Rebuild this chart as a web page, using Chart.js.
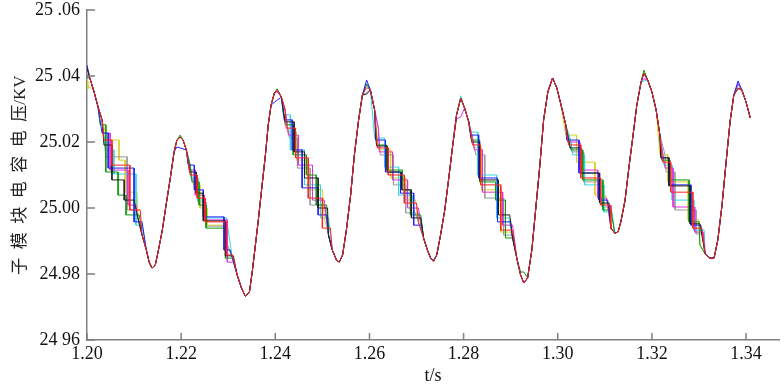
<!DOCTYPE html>
<html lang="zh">
<head>
  <meta charset="UTF-8">
  <title>子模块电容电压</title>
  <script src="https://cdn.jsdelivr.net/npm/chart.js"></script>
  <style>
    html, body { margin: 0; padding: 0; background: #ffffff; }
    canvas { display: block; }
  </style>
</head>
<body>
  <canvas id="volt-chart" width="784" height="387"></canvas>

  <script>
    // axis ticks
    const timeTicks = [1.20, 1.22, 1.24, 1.26, 1.28, 1.30, 1.32, 1.34];
    const voltTicks = [24.96, 24.98, 25.00, 25.02, 25.04, 25.06];
    const voltTickLabels = ['24 96', '24.98', '25.00', '25.02', '25 .04', '25 .06'];

    // smooth envelope, one array per ripple cycle [t (s), U (kV)]
    const cycle0 = [[1.2000,25.0424],[1.2006,25.0394],[1.2015,25.0352],[1.2023,25.0309],[1.2032,25.0267],[1.2040,25.0224],[1.2049,25.0182],[1.2060,25.0136],[1.2070,25.0091],[1.2083,25.0045],[1.2096,25.0006],[1.2109,24.9964],[1.2117,24.9918],[1.2126,24.9873],[1.2132,24.9836],[1.2138,24.9818],[1.2145,24.9827],[1.2151,24.9867],[1.2160,24.9933],[1.2168,25.0009],[1.2177,25.0091],[1.2185,25.0170],[1.2191,25.0206],[1.2198,25.0215],[1.2204,25.0206],[1.2211,25.0176]];
    const cycle1 = [[1.2219,25.0130],[1.2228,25.0085],[1.2236,25.0045],[1.2247,25.0009],[1.2257,24.9982],[1.2270,24.9958],[1.2283,24.9933],[1.2296,24.9897],[1.2309,24.9848],[1.2319,24.9797],[1.2328,24.9758],[1.2336,24.9733],[1.2345,24.9745],[1.2351,24.9806],[1.2357,24.9879],[1.2364,24.9964],[1.2372,25.0070],[1.2379,25.0161],[1.2385,25.0252],[1.2391,25.0312],[1.2398,25.0348],[1.2404,25.0358]];
    const cycle2 = [[1.2413,25.0336],[1.2421,25.0297],[1.2432,25.0242],[1.2443,25.0191],[1.2453,25.0145],[1.2466,25.0100],[1.2479,25.0055],[1.2491,25.0015],[1.2504,24.9970],[1.2513,24.9918],[1.2521,24.9873],[1.2530,24.9842],[1.2536,24.9836],[1.2543,24.9858],[1.2551,24.9933],[1.2560,25.0039],[1.2568,25.0161],[1.2577,25.0267],[1.2585,25.0342],[1.2594,25.0376]];
    const cycle3 = [[1.2602,25.0358],[1.2611,25.0297],[1.2619,25.0242],[1.2630,25.0191],[1.2643,25.0145],[1.2655,25.0109],[1.2668,25.0070],[1.2681,25.0033],[1.2694,24.9994],[1.2704,24.9958],[1.2715,24.9909],[1.2723,24.9873],[1.2730,24.9848],[1.2736,24.9839],[1.2743,24.9858],[1.2751,24.9918],[1.2760,24.9994],[1.2768,25.0085],[1.2777,25.0191],[1.2785,25.0282],[1.2794,25.0333]];
    const cycle4 = [[1.2802,25.0303],[1.2811,25.0261],[1.2819,25.0212],[1.2830,25.0170],[1.2843,25.0124],[1.2855,25.0085],[1.2868,25.0039],[1.2881,24.9994],[1.2894,24.9955],[1.2904,24.9909],[1.2913,24.9848],[1.2921,24.9797],[1.2928,24.9773],[1.2936,24.9788],[1.2945,24.9873],[1.2953,24.9994],[1.2962,25.0130],[1.2970,25.0267],[1.2979,25.0352],[1.2989,25.0394]];
    const cycle5 = [[1.2998,25.0364],[1.3006,25.0318],[1.3017,25.0252],[1.3028,25.0200],[1.3040,25.0152],[1.3053,25.0109],[1.3066,25.0073],[1.3079,25.0036],[1.3091,25.0003],[1.3102,24.9970],[1.3113,24.9939],[1.3121,24.9924],[1.3128,24.9927],[1.3134,24.9958],[1.3143,25.0024],[1.3151,25.0121],[1.3160,25.0221],[1.3168,25.0312],[1.3177,25.0382],[1.3183,25.0409]];
    const cycle6 = [[1.3191,25.0388],[1.3200,25.0352],[1.3209,25.0297],[1.3217,25.0221],[1.3228,25.0161],[1.3240,25.0109],[1.3253,25.0061],[1.3266,25.0015],[1.3279,24.9970],[1.3291,24.9927],[1.3302,24.9888],[1.3313,24.9861],[1.3323,24.9848],[1.3332,24.9848],[1.3340,24.9903],[1.3349,25.0009],[1.3357,25.0130],[1.3366,25.0261],[1.3374,25.0342],[1.3383,25.0376],[1.3391,25.0358],[1.3400,25.0321],[1.3409,25.0273]];

    // held (stepped) stretches of each submodule on the falling edges: [t start, t end, U held]
    const blueHolds = [
      [1.2032,1.2045,25.0227],[1.2045,1.2100,25.0121],[1.2100,1.2117,24.9958],
      [1.2215,1.2228,25.0130],[1.2228,1.2247,25.0055],[1.2247,1.2291,24.9973],[1.2291,1.2304,24.9873],
      [1.2419,1.2436,25.0267],[1.2436,1.2457,25.0176],[1.2457,1.2491,25.0061],[1.2491,1.2509,24.9979],
      [1.2613,1.2634,25.0206],[1.2634,1.2666,25.0109],[1.2666,1.2694,25.0045],[1.2694,1.2711,24.9948],
      [1.2815,1.2832,25.0221],[1.2832,1.2872,25.0091],[1.2872,1.2900,24.9958],
      [1.3019,1.3045,25.0206],[1.3045,1.3087,25.0106],[1.3087,1.3106,25.0024],
      [1.3219,1.3236,25.0152],[1.3236,1.3283,25.0070],[1.3283,1.3304,24.9948]
    ];
    const redHolds = [
      [1.2036,1.2053,25.0206],[1.2053,1.2091,25.0130],[1.2091,1.2113,24.9994],
      [1.2219,1.2234,25.0100],[1.2234,1.2251,25.0030],[1.2251,1.2296,24.9958],[1.2296,1.2309,24.9858],
      [1.2423,1.2443,25.0242],[1.2443,1.2470,25.0152],[1.2470,1.2500,25.0030],[1.2500,1.2517,24.9939],
      [1.2617,1.2640,25.0182],[1.2640,1.2674,25.0100],[1.2674,1.2700,25.0015],
      [1.2819,1.2836,25.0191],[1.2836,1.2879,25.0070],[1.2879,1.2904,24.9933],
      [1.3023,1.3049,25.0191],[1.3049,1.3091,25.0091],[1.3091,1.3111,25.0009],
      [1.3223,1.3240,25.0139],[1.3240,1.3287,25.0048],[1.3287,1.3306,24.9939]
    ];
    const greenHolds = [
      [1.2028,1.2040,25.0252],[1.2040,1.2066,25.0109],[1.2066,1.2083,25.0039],[1.2083,1.2111,24.9979],
      [1.2223,1.2238,25.0079],[1.2238,1.2253,25.0009],[1.2253,1.2294,24.9939],[1.2294,1.2306,24.9848],
      [1.2421,1.2438,25.0252],[1.2438,1.2466,25.0161],[1.2466,1.2487,25.0100],[1.2487,1.2509,25.0009],
      [1.2615,1.2636,25.0191],[1.2636,1.2670,25.0115],[1.2670,1.2687,25.0055],[1.2687,1.2709,24.9979],
      [1.2817,1.2834,25.0206],[1.2834,1.2868,25.0079],[1.2868,1.2889,25.0024],[1.2889,1.2906,24.9909],
      [1.3028,1.3053,25.0176],[1.3053,1.3096,25.0085],[1.3096,1.3113,24.9994],
      [1.3221,1.3238,25.0145],[1.3238,1.3279,25.0085],[1.3279,1.3300,24.9958]
    ];
    const magentaHolds = [
      [1.2034,1.2049,25.0227],[1.2049,1.2087,25.0115],[1.2087,1.2104,25.0009],
      [1.2217,1.2230,25.0115],[1.2230,1.2249,25.0039],[1.2249,1.2298,24.9964],[1.2298,1.2313,24.9836],
      [1.2428,1.2449,25.0221],[1.2449,1.2479,25.0130],[1.2479,1.2504,25.0024],
      [1.2621,1.2649,25.0170],[1.2649,1.2681,25.0085],[1.2681,1.2704,25.0000],
      [1.2823,1.2840,25.0176],[1.2840,1.2883,25.0048],[1.2883,1.2904,24.9948],
      [1.3021,1.3047,25.0200],[1.3047,1.3085,25.0115],[1.3085,1.3104,25.0030],
      [1.3228,1.3245,25.0121],[1.3245,1.3291,25.0003],[1.3291,1.3309,24.9927]
    ];
    const cyanHolds = [
      [1.2040,1.2057,25.0176],[1.2057,1.2104,25.0103],[1.2104,1.2117,24.9948],
      [1.2221,1.2236,25.0091],[1.2236,1.2249,25.0024],[1.2249,1.2296,24.9970],
      [1.2417,1.2432,25.0282],[1.2432,1.2462,25.0176],[1.2462,1.2496,25.0070],[1.2496,1.2513,24.9970],
      [1.2611,1.2632,25.0212],[1.2632,1.2662,25.0124],[1.2662,1.2691,25.0039],
      [1.2813,1.2830,25.0230],[1.2830,1.2870,25.0100],[1.2870,1.2896,24.9970],
      [1.3032,1.3057,25.0161],[1.3057,1.3098,25.0070],[1.3098,1.3115,24.9988],
      [1.3226,1.3243,25.0130],[1.3243,1.3289,25.0024],[1.3289,1.3311,24.9933]
    ];
    const yellowHolds = [
      [1.2002,1.2013,25.0364],[1.2043,1.2068,25.0206],[1.2068,1.2081,25.0145],[1.2081,1.2106,25.0048],
      [1.2226,1.2240,25.0070],[1.2240,1.2255,25.0000],[1.2255,1.2289,24.9948],
      [1.2426,1.2445,25.0230],[1.2445,1.2470,25.0145],[1.2470,1.2500,25.0055],
      [1.2619,1.2645,25.0176],[1.2645,1.2677,25.0091],[1.2677,1.2698,25.0024],
      [1.2821,1.2838,25.0182],[1.2838,1.2879,25.0055],[1.2879,1.2900,24.9927],
      [1.3017,1.3040,25.0221],[1.3040,1.3079,25.0139],[1.3079,1.3102,25.0039],
      [1.3217,1.3234,25.0161],[1.3234,1.3277,25.0079],[1.3277,1.3300,24.9964]
    ];
    const blackHolds = [
      [1.2036,1.2053,25.0191],[1.2053,1.2079,25.0085],[1.2079,1.2100,25.0024],
      [1.2219,1.2232,25.0109],[1.2232,1.2247,25.0045],[1.2247,1.2294,24.9961],[1.2294,1.2311,24.9855],
      [1.2421,1.2440,25.0261],[1.2440,1.2462,25.0170],[1.2462,1.2491,25.0091],[1.2491,1.2511,25.0000],
      [1.2615,1.2638,25.0188],[1.2638,1.2668,25.0109],[1.2668,1.2689,25.0055],[1.2689,1.2709,24.9970],
      [1.2817,1.2834,25.0200],[1.2834,1.2874,25.0085],[1.2874,1.2898,24.9979],
      [1.3026,1.3049,25.0182],[1.3049,1.3089,25.0106],[1.3089,1.3109,25.0015],
      [1.3219,1.3236,25.0152],[1.3236,1.3281,25.0067],[1.3281,1.3302,24.9952]
    ];
    const grayHolds = [
      [1.2040,1.2085,25.0155],[1.2085,1.2102,24.9994],
      [1.2223,1.2236,25.0085],[1.2236,1.2253,25.0018],[1.2253,1.2291,24.9945],
      [1.2430,1.2447,25.0212],[1.2447,1.2474,25.0121],[1.2474,1.2504,25.0009],
      [1.2623,1.2651,25.0161],[1.2651,1.2677,25.0070],[1.2677,1.2704,24.9985],
      [1.2826,1.2845,25.0161],[1.2845,1.2885,25.0030],[1.2885,1.2906,24.9918],
      [1.3030,1.3055,25.0170],[1.3055,1.3094,25.0079],[1.3094,1.3113,25.0003],
      [1.3230,1.3249,25.0109],[1.3249,1.3294,24.9994],[1.3294,1.3311,24.9921]
    ];

    // where a submodule's crest or trough differs from the envelope [t, U]
    const blueTips = [[1.2000,25.0433],[1.2191,25.0185],[1.2198,25.0182],[1.2204,25.0179],[1.2398,25.0320],[1.2404,25.0327],[1.2594,25.0388],[1.3383,25.0385]];
    const redTips = [[1.2000,25.0405],[1.2594,25.0365],[1.3383,25.0362]];
    const greenTips = [[1.2000,25.0395],[1.2198,25.0221],[1.2404,25.0361],[1.2921,24.9806],[1.2928,24.9806],[1.3183,25.0418],[1.3383,25.0364]];
    const magentaTips = [[1.2404,25.0352],[1.2785,25.0270],[1.2794,25.0276],[1.3183,25.0392]];
    const cyanTips = [[1.2000,25.0400],[1.2794,25.0340],[1.3183,25.0385]];
    const yellowTips = [[1.2000,25.0385]];
    const blackTips = [[1.2594,25.0345],[1.3383,25.0362]];
    const grayTips = [[1.2594,25.0350]];

    // drawing order: first entry ends up on top
    const seriesHolds = [redHolds, blackHolds, blueHolds, greenHolds, magentaHolds, cyanHolds, grayHolds, yellowHolds];
    const seriesTips = [redTips, blackTips, blueTips, greenTips, magentaTips, cyanTips, grayTips, yellowTips];
    const seriesColors = ['#ff2020', '#202020', '#1f1fff', '#0a9a0a', '#e030e0', '#30d8e0', '#9a9a9a', '#d8d020'];

    const baseCurve = [].concat(cycle0, cycle1, cycle2, cycle3, cycle4, cycle5, cycle6);

    // one submodule: envelope points (own crest values where read), held stretches in place of the envelope
    function buildSeries(holds, tips) {
      const inHold = t => holds.some(h => t >= h[0] && t <= h[1]);
      const pts = [];
      baseCurve.forEach(p => {
        if (inHold(p[0])) return;
        const tip = tips.find(q => Math.abs(q[0] - p[0]) < 1e-6);
        pts.push({ x: p[0], y: tip ? tip[1] : p[1] });
      });
      holds.forEach(h => {
        pts.push({ x: h[0], y: h[2] });
        pts.push({ x: h[1], y: h[2] });
      });
      pts.sort((a, b) => a.x - b.x);
      return pts;
    }

    const datasets = seriesHolds.map((holds, i) => ({
      data: buildSeries(holds, seriesTips[i]),
      borderColor: seriesColors[i],
      borderWidth: 1,
      pointRadius: 0,
      showLine: true,
      tension: 0
    }));

    const axisColor = '#7f7f7f';
    const serif = "'Liberation Serif', 'Times New Roman', serif";

    // tick marks pointing into the plot
    const innerTicks = {
      id: 'innerTicks',
      afterDraw(chart) {
        const { ctx, scales: { x, y } } = chart;
        ctx.save();
        ctx.strokeStyle = axisColor;
        ctx.lineWidth = 1.5;
        ctx.beginPath();
        timeTicks.forEach(t => {
          const px = x.getPixelForValue(t);
          ctx.moveTo(px, x.top);
          ctx.lineTo(px, x.top - 7);
        });
        voltTicks.forEach(v => {
          const py = y.getPixelForValue(v);
          ctx.moveTo(y.right, py);
          ctx.lineTo(y.right + 8, py);
        });
        ctx.stroke();
        ctx.restore();
      }
    };

    new Chart(document.getElementById('volt-chart').getContext('2d'), {
      type: 'scatter',
      data: { datasets },
      options: {
        responsive: false,
        animation: false,
        layout: { padding: { top: 10, right: 5, left: 0, bottom: 0 } },
        plugins: {
          legend: { display: false },
          tooltip: { enabled: false }
        },
        scales: {
          x: {
            type: 'linear',
            min: 1.20,
            max: 1.347,
            afterBuildTicks: s => { s.ticks = timeTicks.map(v => ({ value: v })); },
            afterFit: s => { s.height = 47; },
            grid: { display: false, drawTicks: false },
            border: { display: true, color: axisColor, width: 1.5 },
            ticks: {
              autoSkip: false,
              maxRotation: 0,
              padding: 3,
              color: '#111',
              font: { family: serif, size: 18 },
              callback: v => v.toFixed(2)
            },
            title: {
              display: true,
              text: 't/s',
              color: '#111',
              font: { family: serif, size: 18 },
              padding: { top: 0, bottom: 0 }
            }
          },
          y: {
            type: 'linear',
            min: 24.96,
            max: 25.06,
            afterBuildTicks: s => { s.ticks = voltTicks.map(v => ({ value: v })); },
            afterFit: s => { s.width = 87; s.paddingTop = 0; s.paddingBottom = 0; },
            grid: { display: false, drawTicks: false },
            border: { display: true, color: axisColor, width: 1.5 },
            ticks: {
              autoSkip: false,
              padding: 7,
              color: '#111',
              font: { family: serif, size: 18 },
              callback: (v, i) => voltTickLabels[i]
            },
            title: {
              display: true,
              text: '子  模  块  电  容  电  压/KV',
              color: '#222',
              font: { family: "'Liberation Serif', 'Noto Sans CJK SC', serif", size: 17 },
              padding: { top: 10, bottom: 0 }
            }
          }
        }
      },
      plugins: [innerTicks]
    });
  </script>
</body>
</html>
